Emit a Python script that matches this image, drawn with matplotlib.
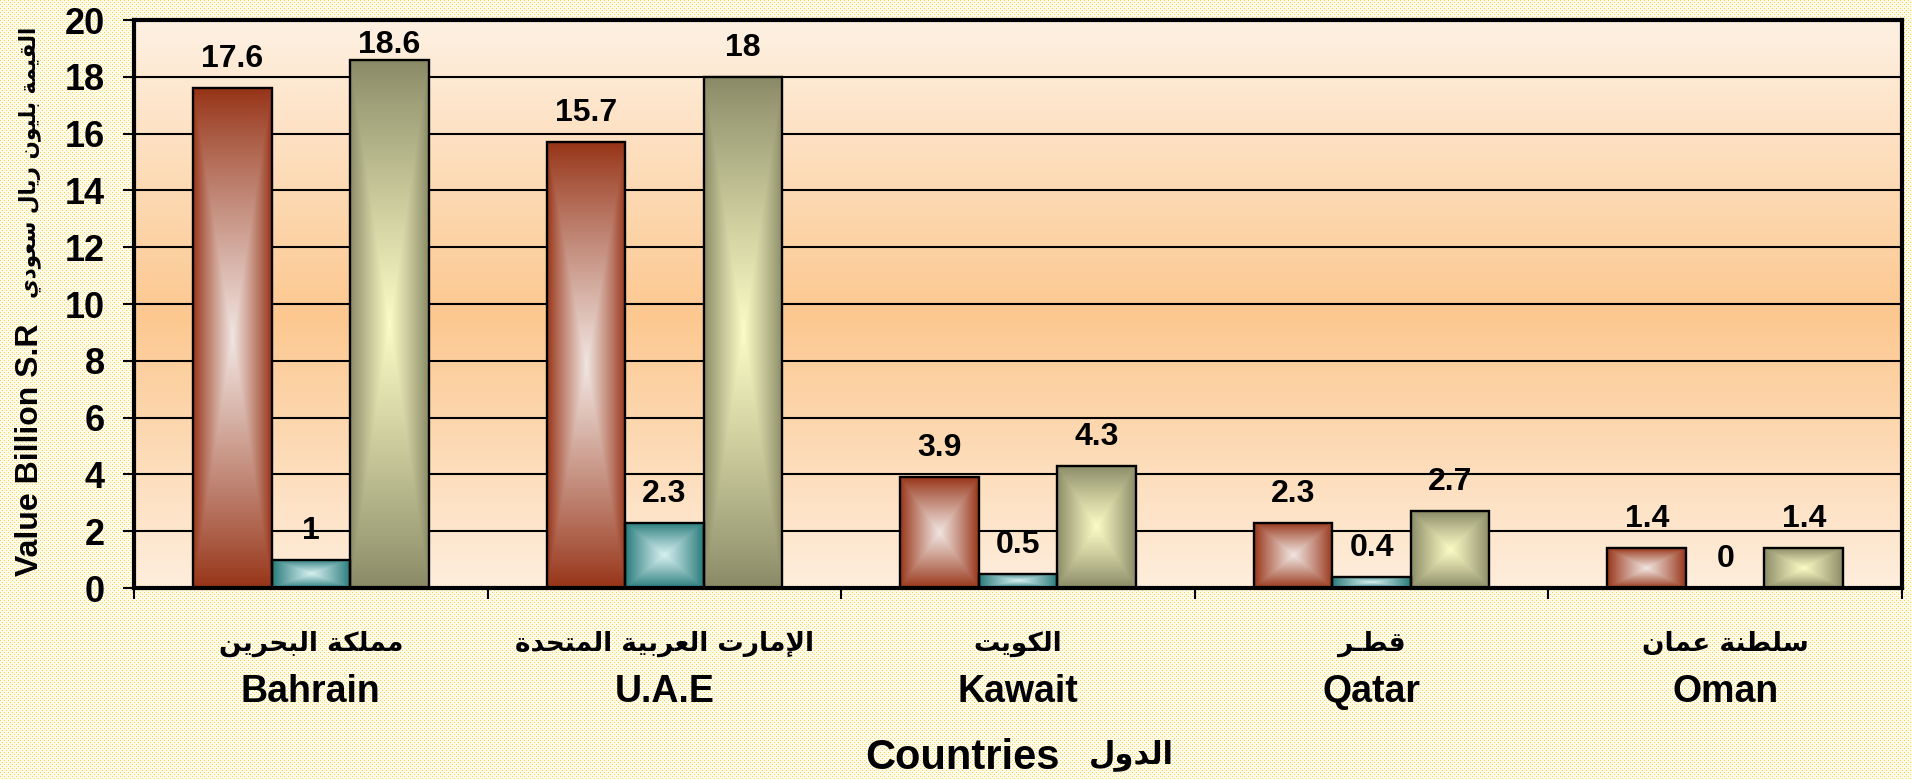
import numpy as np
import matplotlib
matplotlib.use('Agg')
import matplotlib.pyplot as plt
from matplotlib import transforms
from matplotlib.colors import to_rgb

# ---------------- data ----------------
countries_en = ['Bahrain', 'U.A.E', 'Kawait', 'Qatar', 'Oman']
countries_ar = ['مملكة البحرين', 'الإمارت العربية المتحدة', 'الكويت', 'قطـر', 'سلطنة عمان']
series_red = [17.6, 15.7, 3.9, 2.3, 1.4]
series_teal = [1, 2.3, 0.5, 0.4, 0]
series_olive = [18.6, 18, 4.3, 2.7, 1.4]
y_ticks = [0, 2, 4, 6, 8, 10, 12, 14, 16, 18, 20]
xlabel_en = 'Countries'
xlabel_ar = 'الدول'
ylabel_en = 'Value Billion S.R'
ylabel_ar = 'القيمة بليون ريال سعودي'

# ---------------- minimal Arabic shaping (presentation forms + RTL order) ----------------
FORMS = {
    '\u0627': ('\uFE8D', '\uFE8E', None, None),
    '\u0625': ('\uFE87', '\uFE88', None, None),
    '\u0628': ('\uFE8F', '\uFE90', '\uFE91', '\uFE92'),
    '\u0629': ('\uFE93', '\uFE94', None, None),
    '\u062A': ('\uFE95', '\uFE96', '\uFE97', '\uFE98'),
    '\u062D': ('\uFEA1', '\uFEA2', '\uFEA3', '\uFEA4'),
    '\u062F': ('\uFEA9', '\uFEAA', None, None),
    '\u0631': ('\uFEAD', '\uFEAE', None, None),
    '\u0633': ('\uFEB1', '\uFEB2', '\uFEB3', '\uFEB4'),
    '\u0637': ('\uFEC1', '\uFEC2', '\uFEC3', '\uFEC4'),
    '\u0639': ('\uFEC9', '\uFECA', '\uFECB', '\uFECC'),
    '\u0642': ('\uFED5', '\uFED6', '\uFED7', '\uFED8'),
    '\u0643': ('\uFED9', '\uFEDA', '\uFEDB', '\uFEDC'),
    '\u0644': ('\uFEDD', '\uFEDE', '\uFEDF', '\uFEE0'),
    '\u0645': ('\uFEE1', '\uFEE2', '\uFEE3', '\uFEE4'),
    '\u0646': ('\uFEE5', '\uFEE6', '\uFEE7', '\uFEE8'),
    '\u0648': ('\uFEED', '\uFEEE', None, None),
    '\u064A': ('\uFEF1', '\uFEF2', '\uFEF3', '\uFEF4'),
    '\u0640': ('\u0640', '\u0640', '\u0640', '\u0640'),
}
LAM_ALEF = {'\u0627': ('\uFEFB', '\uFEFC'), '\u0625': ('\uFEF9', '\uFEFA')}


def shape(text):
    tokens = []
    i = 0
    while i < len(text):
        c = text[i]
        if c == '\u0644' and i + 1 < len(text) and text[i + 1] in LAM_ALEF:
            tokens.append(('LA', text[i + 1]))
            i += 2
        else:
            tokens.append(('C', c))
            i += 1

    def can_join_prev(tok):
        return tok[0] == 'LA' or tok[1] in FORMS

    def can_join_next(tok):
        return tok[0] == 'C' and tok[1] in FORMS and FORMS[tok[1]][2] is not None

    out = []
    for k, tok in enumerate(tokens):
        prev = tokens[k - 1] if k > 0 else None
        nxt = tokens[k + 1] if k + 1 < len(tokens) else None
        jp = prev is not None and can_join_next(prev) and can_join_prev(tok)
        jn = nxt is not None and can_join_next(tok) and can_join_prev(nxt)
        if tok[0] == 'LA':
            out.append(LAM_ALEF[tok[1]][1 if jp else 0])
        elif tok[1] in FORMS:
            f = FORMS[tok[1]]
            if jp and jn:
                out.append(f[3])
            elif jp:
                out.append(f[1])
            elif jn:
                out.append(f[2])
            else:
                out.append(f[0])
        else:
            out.append(tok[1])
    return ''.join(reversed(out))


LAT = 'Liberation Sans'
ARB = ['DejaVu Sans']

W, H = 1912, 779
fig = plt.figure(figsize=(W / 100, H / 100), dpi=100)
fig.patch.set_facecolor('#FFFBEA')

# dotted yellow background
yy, xx = np.mgrid[0:H, 0:W]
dots = ((xx % 4 == 0) & (yy % 4 == 0)) | ((xx % 4 == 2) & (yy % 4 == 2))
bg = np.empty((H, W, 3))
bg[:] = to_rgb('#FFFCEE')
bg[dots] = to_rgb('#FFD640')
fig.figimage(bg, 0, 0, zorder=-10)

ax = fig.add_axes([134 / W, 1 - 588 / H, (1902 - 134) / W, (588 - 20) / H])
ax.set_zorder(1)
ax.set_facecolor('none')
n = len(countries_en)
x = np.arange(n)
ax.set_xlim(-0.5, n - 0.5)
ax.set_ylim(0, 20)

# plot area vertical gradient
g = np.linspace(0, 1, 400)
t = 1 - np.abs(g - 0.48) / 0.52
pale = np.array(to_rgb('#FEF1E3'))
peach = np.array(to_rgb('#FCC890'))
col = pale[None, :] + (peach - pale)[None, :] * (np.clip(t, 0, 1)[:, None] ** 1.0)
ax.imshow(col[:, None, :], extent=[-0.5, n - 0.5, 0, 20], aspect='auto',
          origin='lower', zorder=0, interpolation='bilinear')

ax.set_axisbelow(True)
ax.yaxis.grid(True, color='black', linewidth=1.5)
ax.set_yticks(y_ticks)
ax.set_yticklabels([str(v) for v in y_ticks], fontfamily=LAT, fontweight='bold', fontsize=26)
ax.tick_params(axis='y', direction='out', length=8, width=1.5, pad=13)
ax.set_xticks(np.arange(-0.5, n, 1.0))
ax.set_xticklabels([])
ax.tick_params(axis='x', direction='out', length=8, width=1.5)
for s in ax.spines.values():
    s.set_linewidth(3)
    s.set_color('black')

# bars with rectangular "from center" gradient
width = 0.222
series = [series_red, series_teal, series_olive]
colors = [('#963316', '#F1E6E2'), ('#257979', '#D8F0F0'), ('#898966', '#FCFCC6')]
offsets = [-width, 0, width]

u = np.linspace(-1, 1, 240)
U, V = np.meshgrid(u, u)
T = np.maximum(np.abs(U), np.abs(V))
F = (1 - T) ** 0.9

label_cap = 18.1  # labels of very tall bars are kept inside the plot area
for vals, (dark, light), off in zip(series, colors, offsets):
    d = np.array(to_rgb(dark))
    l = np.array(to_rgb(light))
    img = d[None, None, :] + (l - d)[None, None, :] * F[:, :, None]
    bars = ax.bar(x + off, vals, width, facecolor='none', edgecolor='black',
                  linewidth=1.7, zorder=1.6)
    for b, v in zip(bars, vals):
        if v > 0:
            x0, w0, h0 = b.get_x(), b.get_width(), b.get_height()
            im = ax.imshow(img, extent=[x0, x0 + w0, 0, h0], aspect='auto',
                           zorder=1.5, interpolation='bilinear')
            im.set_clip_path(b)
        ax.annotate(f'{v:g}', (b.get_x() + b.get_width() / 2, min(v, label_cap)),
                    xytext=(0, 10), textcoords='offset points', ha='center', va='bottom',
                    fontfamily=LAT, fontweight='bold', fontsize=23, zorder=4)

# category labels
tr = transforms.blended_transform_factory(ax.transData, fig.transFigure)
for i in range(n):
    ax.text(x[i], 1 - 644 / H, shape(countries_ar[i]), transform=tr, ha='center', va='center',
            family=ARB, fontweight='bold', fontsize=19)
    ax.text(x[i], 1 - 692 / H, countries_en[i], transform=tr, ha='center', va='center',
            family=LAT, fontweight='bold', fontsize=27)

fig.text(963 / W, 1 - 758 / H, xlabel_en, ha='center', va='center',
         family=LAT, fontweight='bold', fontsize=30)
fig.text(1131 / W, 1 - 755 / H, shape(xlabel_ar), ha='center', va='center',
         family=ARB, fontweight='bold', fontsize=22)

fig.text(30 / W, 1 - 450 / H, ylabel_en, rotation=90, ha='center', va='center',
         family=LAT, fontweight='bold', fontsize=23)
fig.text(30 / W, 1 - 162 / H, shape(ylabel_ar), rotation=90, ha='center', va='center',
         family=ARB, fontweight='bold', fontsize=15.5)

fig.savefig('out.png', dpi=100, facecolor=fig.get_facecolor())
